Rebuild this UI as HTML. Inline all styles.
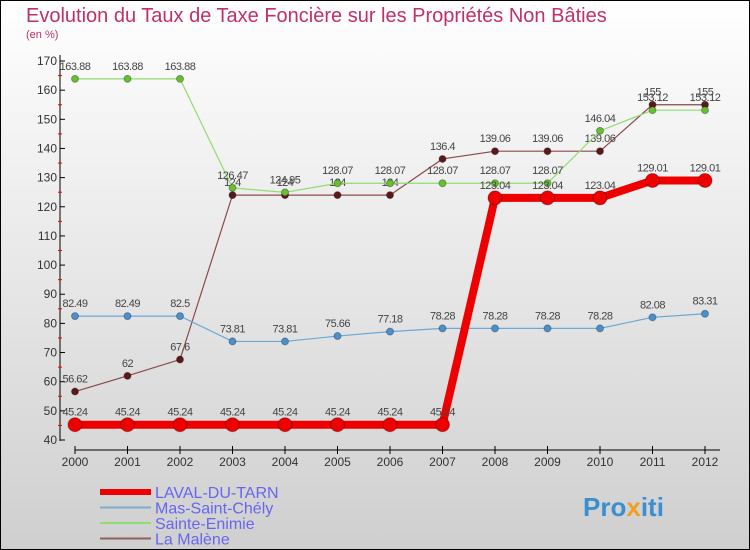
<!DOCTYPE html>
<html><head><meta charset="utf-8"><style>
body{margin:0;}
#c{width:750px;height:550px;position:relative;overflow:hidden;}
svg text{font-family:"Liberation Sans","DejaVu Sans",sans-serif;}
</style></head><body>
<div id="c">
<svg id="s" width="750" height="550" xmlns="http://www.w3.org/2000/svg">
<defs><linearGradient id="bg" x1="0" y1="0" x2="0" y2="1"><stop offset="0" stop-color="#ffffff"/><stop offset="1" stop-color="#cfcfcf"/></linearGradient></defs>
<rect x="0.5" y="0.5" width="749" height="549" fill="url(#bg)" stroke="#000"/>
<text x="26" y="22" font-size="20" fill="#c0306a">Evolution du Taux de Taxe Foncière sur les Propriétés Non Bâties</text>
<text x="26" y="38" font-size="11" fill="#c0306a">(en %)</text>
<g id="axes"></g><g id="series"></g><g id="legend"></g>
<text x="583" y="516" font-size="26" font-weight="bold" fill="#3a8fd0">Pro<tspan fill="#f0a020">x</tspan>iti</text>
</svg></div>
<script>
const years=["2000","2001","2002","2003","2004","2005","2006","2007","2008","2009","2010","2011","2012"];
const yTicks=[40,50,60,70,80,90,100,110,120,130,140,150,160,170];
const laval=[45.24,45.24,45.24,45.24,45.24,45.24,45.24,45.24,123.04,123.04,123.04,129.01,129.01];
const mas=[82.49,82.49,82.5,73.81,73.81,75.66,77.18,78.28,78.28,78.28,78.28,82.08,83.31];
const enimie=[163.88,163.88,163.88,126.47,124.95,128.07,128.07,128.07,128.07,128.07,146.04,153.12,153.12];
const malene=[56.62,62,67.6,124,124,124,124,136.4,139.06,139.06,139.06,155,155];
const seriesNames=["LAVAL-DU-TARN","Mas-Saint-Chély","Sainte-Enimie","La Malène"];
const NS="http://www.w3.org/2000/svg";
const xs=i=>75+i*52.5;
const ys=v=>440-(v-40)*(379/130);
function mk(t,a,p){const e=document.createElementNS(NS,t);for(const k in a)e.setAttribute(k,a[k]);p.appendChild(e);return e;}
const ax=document.getElementById('axes');
let e=mk('line',{x1:60,y1:55,x2:60,y2:441,stroke:'#000'},ax);


e=mk('line',{x1:75,y1:450,x2:720,y2:450,stroke:'#000'},ax);


yTicks.forEach((v,i)=>{
 mk('line',{x1:60,y1:ys(v),x2:65,y2:ys(v),stroke:'#000'},ax);
 if(i<yTicks.length-1)mk('line',{x1:58,y1:ys(v+5),x2:62,y2:ys(v+5),stroke:'#e00'},ax);
 const t=mk('text',{x:57,y:ys(v)+4,'font-size':12,'text-anchor':'end',fill:'#333'},ax);
 t.textContent=v;
 
 
});
years.forEach((y,i)=>{
 mk('line',{x1:xs(i),y1:446,x2:xs(i),y2:454,stroke:'#000'},ax);
 const t=mk('text',{x:xs(i),y:466,'font-size':12,'text-anchor':'middle',fill:'#333'},ax);
 t.textContent=y;
 
 
});
const sg=document.getElementById('series');
function draw(data,color,w,r,dot,name){
 const g=mk('g',{},sg);
 
 
 mk('polyline',{points:data.map((v,i)=>xs(i)+','+ys(v)).join(' '),fill:'none',stroke:color,'stroke-width':w},g);
 data.forEach((v,i)=>{
  const c=mk('circle',{cx:xs(i),cy:ys(v),r:r,fill:dot,stroke:'rgba(0,0,0,0.3)'},g);
  
  
  const t=mk('text',{x:xs(i),y:ys(v)-9,'font-size':11,'text-anchor':'middle',fill:'#444','letter-spacing':'-0.5'},g);
  t.textContent=v;
  
  
 });
}
draw(malene,'#8b4a4a',1.2,3.5,'#5a1a1a','series-la-malene');
draw(enimie,'#90dd70',1.2,3.5,'#66c030','series-sainte-enimie');
draw(mas,'#6aa8d8',1.2,3.5,'#4a90d0','series-mas-saint-chely');
draw(laval,'#ee0000',8,7,'#ee0000','series-laval-du-tarn');
const lg=document.getElementById('legend');
const lc=['#ee0000','#7aaed0','#90dd70','#906060'],lw=[6,2,2,2];
seriesNames.forEach((n,i)=>{
 const g=mk('g',{},lg);
 
 
 const y=492+i*15.5;
 mk('line',{x1:100,y1:y,x2:151,y2:y,stroke:lc[i],'stroke-width':lw[i]},g);
 const t=mk('text',{x:155,y:y+6,'font-size':16,fill:'#6666ee'},g);
 t.textContent=n;
});
</script>
</body></html>
